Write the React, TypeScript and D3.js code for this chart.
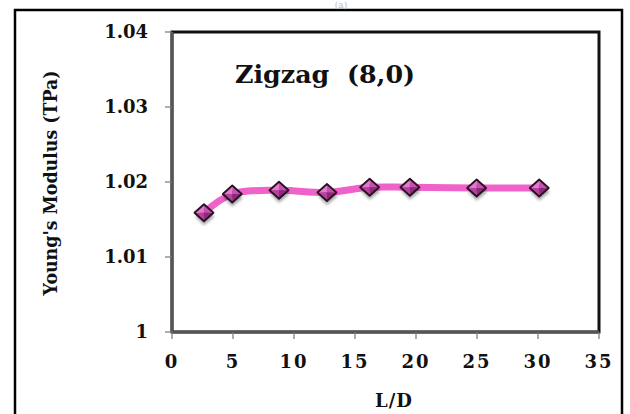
import * as d3 from "d3";
import React from "react";

// L/D ratio vs Young's modulus, zigzag (8,0) tube
const ldRatio = [2.62, 4.94, 8.77, 12.7, 16.2, 19.5, 24.97, 30.1];
const modulus = [1.0159, 1.0184, 1.0189, 1.0186, 1.0193, 1.0193, 1.0192, 1.0192];
const xTicks = [0, 5, 10, 15, 20, 25, 30, 35];
const yTicks = [1, 1.01, 1.02, 1.03, 1.04];

const W = 630;
const H = 414;
const margin = { left: 172, right: 31, top: 32, bottom: 82 };
const serif = "'DejaVu Serif', 'Liberation Serif', serif";

export default function App() {
  const x = d3.scaleLinear().domain([0, 35]).range([margin.left, W - margin.right]);
  const y = d3.scaleLinear().domain([1, 1.04]).range([H - margin.bottom, margin.top]);

  const pts: [number, number][] = ldRatio.map((d, i) => [x(d), y(modulus[i])]);
  const line = d3.line().curve(d3.curveCatmullRom.alpha(0.5))(pts) || "";

  const hw = 9.5;
  const hh = 8.5;

  return (
    <svg
      width={W}
      height={H}
      style={{ position: "absolute", left: 0, top: 0, background: "#fff" }}
      fontFamily={serif}
    >
      <defs>
        <filter id="shadow" x="-50%" y="-50%" width="200%" height="200%">
          <feGaussianBlur stdDeviation="1.5" />
        </filter>
      </defs>

      {/* outer frame */}
      <rect x={15} y={10} width={607} height={420} fill="none" stroke="#000" strokeWidth={2.5} />
      <text x={341} y={8} textAnchor="middle" fontSize={9} fill="#bbb">(a)</text>

      {/* plot box */}
      <rect
        x={margin.left}
        y={margin.top}
        width={W - margin.right - margin.left}
        height={H - margin.bottom - margin.top}
        fill="#fff"
        stroke="#111"
        strokeWidth={3}
      />
      <line x1={margin.left} x2={margin.left} y1={margin.top} y2={H - margin.bottom} stroke="#555" strokeWidth={3} />
      <line x1={margin.left} x2={W - margin.right} y1={H - margin.bottom} y2={H - margin.bottom} stroke="#555" strokeWidth={3} />

      {/* y ticks */}
      {yTicks.map((t) => (
        <g key={"y" + t}>
          <line x1={margin.left - 7} x2={margin.left} y1={y(t)} y2={y(t)} stroke="#777" strokeWidth={1.2} />
          <text x={148} y={y(t)} dy="0.35em" textAnchor="end" fontSize={18} fontWeight="bold" fill="#111">
            {t === 1 ? "1" : d3.format(".2f")(t)}
          </text>
        </g>
      ))}

      {/* x ticks */}
      {xTicks.map((t) => (
        <g key={"x" + t}>
          <line x1={x(t)} x2={x(t)} y1={H - margin.bottom} y2={H - margin.bottom + 7} stroke="#777" strokeWidth={1.2} />
          <text x={x(t)} y={368} textAnchor="middle" fontSize={18} fontWeight="bold" fill="#111" letterSpacing={2}>
            {t}
          </text>
        </g>
      ))}

      <text x={394} y={407} textAnchor="middle" fontSize={18} fontWeight="bold" fill="#111" letterSpacing={1}>L/D</text>
      <text
        transform="translate(57,183) rotate(-90)"
        textAnchor="middle"
        fontSize={18}
        fontWeight="bold"
        fill="#111"
        textLength={225}
        lengthAdjust="spacingAndGlyphs"
      >
        Young's Modulus (TPa)
      </text>

      <text
        x={235}
        y={83}
        fontSize={25}
        fontWeight="bold"
        fill="#111"
        xmlSpace="preserve"
        textLength={180}
        lengthAdjust="spacingAndGlyphs"
      >
        Zigzag  (8,0)
      </text>

      {/* series */}
      <path d={line} fill="none" stroke="#ef62c9" strokeWidth={7} strokeLinecap="round" />

      {pts.map(([px, py], i) => (
        <g key={"m" + i} transform={`translate(${px},${py})`}>
          <path
            d={`M0,${-hh + 3}L${hw + 1},4L0,${hh + 4}L${-hw + 1},4Z`}
            fill="#000"
            opacity={0.35}
            filter="url(#shadow)"
          />
          <path d={`M0,0L0,${-hh}L${-hw},0Z`} fill="#e27ad0" />
          <path d={`M0,0L0,${-hh}L${hw},0Z`} fill="#c651ad" />
          <path d={`M0,0L${-hw},0L0,${hh}Z`} fill="#b8419f" />
          <path d={`M0,0L${hw},0L0,${hh}Z`} fill="#8e2a7c" />
          <path
            d={`M0,${-hh}L${hw},0L0,${hh}L${-hw},0Z`}
            fill="none"
            stroke="#2a0f22"
            strokeWidth={1.8}
            strokeLinejoin="round"
          />
        </g>
      ))}
    </svg>
  );
}
